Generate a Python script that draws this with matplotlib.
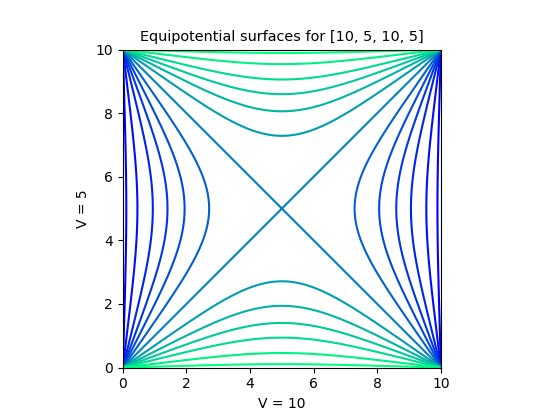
import numpy as np
import matplotlib
matplotlib.use("Agg")
import matplotlib.pyplot as plt

# boundary potentials: bottom, left, top, right
boundary = [10, 5, 10, 5]
size = 10.0
# contour levels
levels = [5.09, 5.38, 5.77, 6.12, 6.49, 6.93, 7.5, 8.07, 8.51, 8.88, 9.23, 9.62, 9.91]

npts = 201
x = np.linspace(0, size, npts)
y = np.linspace(0, size, npts)
X, Y = np.meshgrid(x, y)


def side(s, t, nmax=400):
    # potential from one side held at 1 (s = distance from that side)
    out = np.zeros_like(s)
    for n in range(1, nmax, 2):
        k = n * np.pi / size
        out += 4 / (n * np.pi) * np.sin(k * t) * np.exp(-k * s) * \
            (1 - np.exp(-2 * k * (size - s))) / (1 - np.exp(-2 * n * np.pi))
    return out


V = (boundary[0] * side(Y, X) + boundary[1] * side(X, Y)
     + boundary[2] * side(size - Y, X) + boundary[3] * side(size - X, Y))
V[0, :] = boundary[0]
V[:, 0] = boundary[1]
V[-1, :] = boundary[2]
V[:, -1] = boundary[3]
V[0, 0] = V[0, -1] = V[-1, 0] = V[-1, -1] = np.mean(boundary)

fig, ax = plt.subplots(figsize=(5.5, 4.13), dpi=100)
ax.contour(X, Y, V, levels=levels, cmap="winter")
ax.set_aspect("equal")
ax.set_xlim(0, size)
ax.set_ylim(0, size)
ax.set_title("Equipotential surfaces for " + str(boundary), fontsize=10.4)
ax.set_xlabel("V = " + str(boundary[0]))
ax.set_ylabel("V = " + str(boundary[1]))
fig.savefig("out.png", dpi=100)
